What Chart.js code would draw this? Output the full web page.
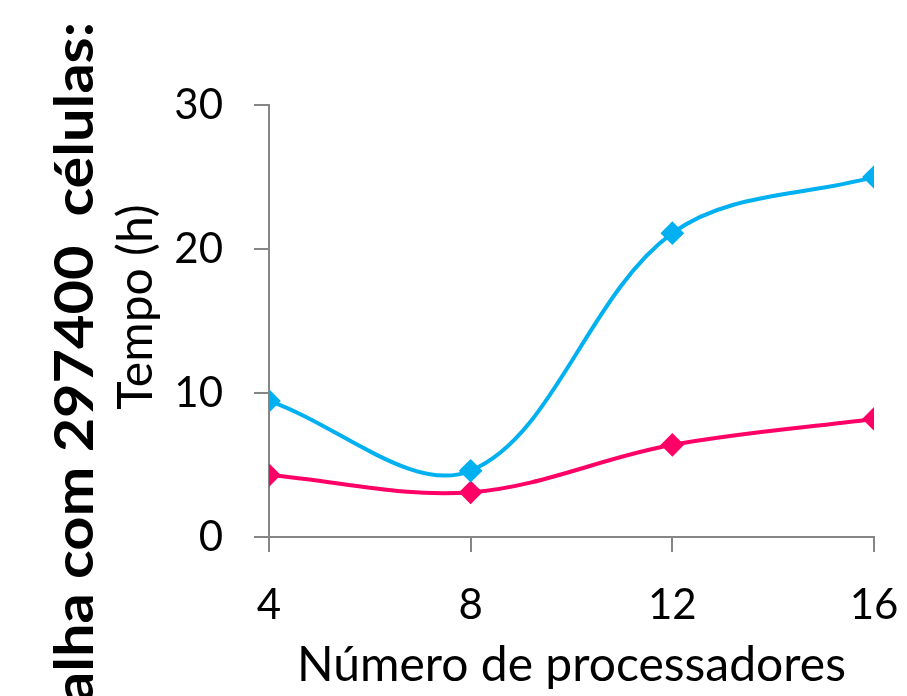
<!DOCTYPE html>
<html>
<head>
<meta charset="utf-8">
<script src="https://cdn.jsdelivr.net/npm/chart.js@4/dist/chart.umd.min.js"></script>
<style>
  html, body { margin: 0; padding: 0; background: #ffffff; }
  #wrap { width: 907px; height: 696px; }
</style>
</head>
<body>
<div id="wrap"><canvas id="chart" width="907" height="696"></canvas></div>
<script>
// Processor counts and run times (hours)
const processadores = [4, 8, 12, 16];
const tempoSerieAzul = [9.45, 4.6, 21.1, 25.0];
const tempoSerieRosa = [4.3, 3.1, 6.4, 8.2];
const yTickValues = [0, 10, 20, 30];
const xTickValues = [4, 8, 12, 16];

const tituloLateral = 'Malha com 297400  células:';
const tituloY = 'Tempo (h)';
const tituloX = 'Número de processadores';

const AXIS = '#868686';
const FONT = 'Lato, "Open Sans", sans-serif';

function toPoints(xs, ys) {
  return xs.map((x, i) => ({ x: x, y: ys[i] }));
}

// Rotated side titles drawn on the canvas
const sideTitles = {
  id: 'sideTitles',
  afterDraw(chart) {
    const ctx = chart.ctx;
    ctx.save();
    ctx.fillStyle = '#000000';

    // big bold caption running up the left edge (its start runs off the bottom)
    ctx.font = 'bold 54px ' + FONT;
    const runW = ctx.measureText(tituloLateral.slice(1)).width;
    const stretch = 680 / runW;
    ctx.translate(93, 22);
    ctx.rotate(-Math.PI / 2);
    ctx.scale(stretch, 1);
    ctx.textAlign = 'right';
    ctx.textBaseline = 'alphabetic';
    ctx.fillText(tituloLateral, 0, 0);
    ctx.restore();

    // value-axis title
    ctx.save();
    ctx.fillStyle = '#000000';
    ctx.font = '48px ' + FONT;
    ctx.translate(137, 307);
    ctx.rotate(-Math.PI / 2);
    ctx.textAlign = 'center';
    ctx.textBaseline = 'middle';
    ctx.fillText(tituloY, 0, 0);
    ctx.restore();
  }
};

new Chart(document.getElementById('chart'), {
  type: 'line',
  data: {
    datasets: [
      {
        label: 'Série 1',
        data: toPoints(processadores, tempoSerieAzul),
        borderColor: '#00B0F0',
        backgroundColor: '#00B0F0',
        borderWidth: 4,
        pointStyle: 'rectRot',
        pointRadius: 9,
        pointHoverRadius: 9,
        tension: 0.35,
        fill: false
      },
      {
        label: 'Série 2',
        data: toPoints(processadores, tempoSerieRosa),
        borderColor: '#FF0066',
        backgroundColor: '#FF0066',
        borderWidth: 4,
        pointStyle: 'rectRot',
        pointRadius: 9,
        pointHoverRadius: 9,
        tension: 0.35,
        fill: false
      }
    ]
  },
  options: {
    responsive: false,
    animation: false,
    events: [],
    layout: { padding: { left: 0, top: 105, right: 33, bottom: 0 } },
    plugins: {
      legend: { display: false },
      tooltip: { enabled: false },
      title: { display: false }
    },
    scales: {
      x: {
        type: 'linear',
        min: 4,
        max: 16,
        afterFit(scale) {
          scale.height = 159;
          scale.paddingLeft = 0;
          scale.paddingRight = 0;
        },
        afterBuildTicks(scale) { scale.ticks = xTickValues.map(v => ({ value: v })); },
        border: { display: true, color: AXIS, width: 2 },
        grid: { display: true, drawOnChartArea: false, drawTicks: true, tickLength: 15, color: AXIS, lineWidth: 2 },
        ticks: { color: '#000000', font: { family: FONT, size: 42 }, padding: 28, maxRotation: 0 },
        title: {
          display: true,
          text: tituloX,
          color: '#000000',
          font: { family: FONT, size: 48 },
          padding: { top: 0, bottom: 2 }
        }
      },
      y: {
        type: 'linear',
        min: 0,
        max: 30,
        afterFit(scale) {
          scale.width = 269;
          scale.paddingTop = 0;
          scale.paddingBottom = 0;
        },
        afterBuildTicks(scale) { scale.ticks = yTickValues.map(v => ({ value: v })); },
        border: { display: true, color: AXIS, width: 2 },
        grid: { display: true, drawOnChartArea: false, drawTicks: true, tickLength: 15, color: AXIS, lineWidth: 2 },
        ticks: { color: '#000000', font: { family: FONT, size: 42 }, padding: 31 },
        title: { display: false }
      }
    }
  },
  plugins: [sideTitles]
});
</script>
</body>
</html>
